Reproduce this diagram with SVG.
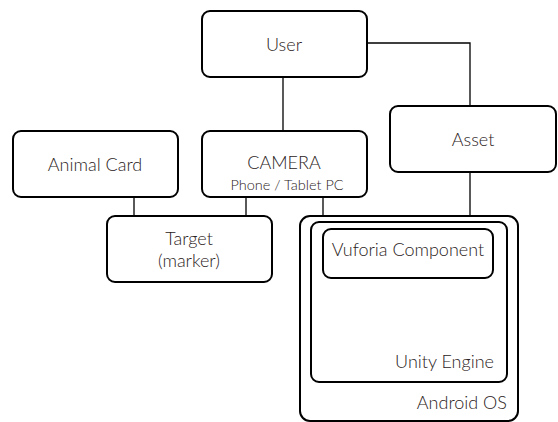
<svg xmlns="http://www.w3.org/2000/svg" width="558" height="422" viewBox="0 0 558 422">
<style>
.box{fill:#fff;stroke:#000;stroke-width:2}
.ln{stroke:#000;stroke-width:1.3;fill:none}
text{font-family:Lato,"Open Sans",sans-serif;font-weight:300;fill:#2b2222;font-size:18px}
.c{text-anchor:middle}
.r{text-anchor:end}
.s{font-size:14.5px}
</style>
<rect width="558" height="422" fill="#fff"/>
<g id="connectors">
<path class="ln" d="M367,43 H470 V106"/>
<path class="ln" d="M283,77 V131"/>
<path class="ln" d="M134,197 V216"/>
<path class="ln" d="M246,197 V216"/>
<path class="ln" d="M323,197 V216"/>
<path class="ln" d="M470,172 V216"/>
</g>
<g id="user"><rect class="box" x="202" y="11" width="165" height="66" rx="8"/><text class="c" x="284" y="51">User</text></g>
<g id="asset"><rect class="box" x="390" y="106" width="166" height="66" rx="8"/><text class="c" x="473" y="146">Asset</text></g>
<g id="animal-card"><rect class="box" x="13" y="131" width="165" height="66" rx="8"/><text class="c" x="95" y="171">Animal Card</text></g>
<g id="camera"><rect class="box" x="202" y="131" width="165" height="66" rx="8"/><text class="c" x="284" y="169">CAMERA</text><text class="c s" x="287" y="190">Phone / Tablet PC</text></g>
<g id="target"><rect class="box" x="107" y="216" width="165" height="66" rx="8"/><text class="c" x="189" y="245">Target</text><text class="c" x="189" y="267">(marker)</text></g>
<g id="android-os"><rect class="box" x="300" y="216" width="218" height="205" rx="10"/><text class="r" x="507" y="409">Android OS</text></g>
<g id="unity-engine"><rect class="box" x="311" y="222" width="196" height="160" rx="8"/><text class="r" x="494" y="368">Unity Engine</text></g>
<g id="vuforia"><rect class="box" x="323" y="229" width="170" height="49" rx="8"/><text class="c" x="408" y="256">Vuforia Component</text></g>
</svg>
